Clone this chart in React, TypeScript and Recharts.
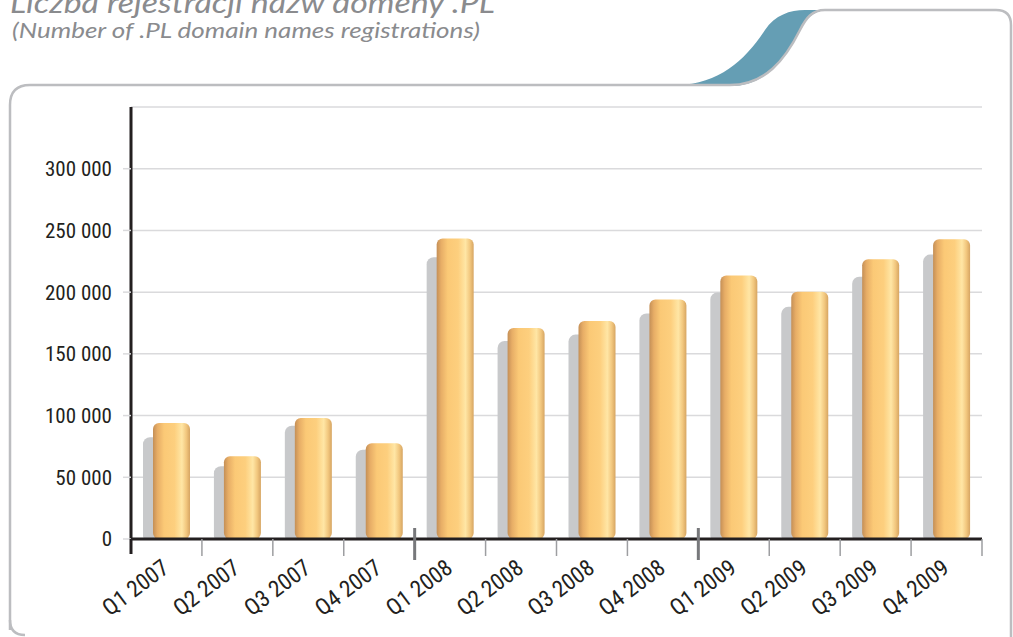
import { Bar, BarChart, CartesianGrid, XAxis, YAxis } from 'recharts'

const QUARTERS = [
  'Q1 2007', 'Q2 2007', 'Q3 2007', 'Q4 2007',
  'Q1 2008', 'Q2 2008', 'Q3 2008', 'Q4 2008',
  'Q1 2009', 'Q2 2009', 'Q3 2009', 'Q4 2009',
]
// front (orange) bars
const REGISTRATIONS = [94000, 67000, 98000, 77500, 243500, 171000, 176700, 194000, 213400, 200300, 226600, 242900]
// grey "shadow" bars behind them
const SHADOW = [82400, 59000, 91800, 72300, 228300, 160400, 165600, 182700, 199800, 188100, 212500, 230400]
const Y_TICKS = [0, 50000, 100000, 150000, 200000, 250000, 300000]

const TITLE = 'Liczba rejestracji nazw domeny .PL'
const SUBTITLE = '(Number of .PL domain names registrations)'

const W = 1013
const H = 637
const PLOT_LEFT = 131
const PLOT_RIGHT = 982
const BAND = (PLOT_RIGHT - PLOT_LEFT) / QUARTERS.length
const YEAR_ENDS = [3, 7]
const LABEL_FONT = '"Liberation Sans Narrow", "Arial Narrow", "Roboto Condensed", "Liberation Sans", sans-serif'

const data = QUARTERS.map((q, i) => ({ q, value: REGISTRATIONS[i], shadow: SHADOW[i] }))

const fmt = (v: number) => String(v).replace(/\B(?=(\d{3})+(?!\d))/g, ' ')

function XTick(props: any) {
  const { x, y, payload, index } = props
  const bx = x + BAND / 2
  const tall = YEAR_ENDS.includes(index)
  return (
    <g>
      {index === 0 && (
        <line x1={x - BAND / 2} x2={x - BAND / 2} y1={y} y2={y + 15} stroke="#231f20" strokeWidth={3} />
      )}
      {tall ? (
        <line x1={bx} x2={bx} y1={y - 11} y2={y + 21} stroke="#77787b" strokeWidth={3} />
      ) : (
        <line x1={bx} x2={bx} y1={y} y2={y + 17} stroke="#9d9ea1" strokeWidth={1.5} />
      )}
      <g transform={`translate(${x + 4}, ${y + 32}) rotate(-37)`}>
        <text x={0} y={0} textAnchor="end" fontFamily={LABEL_FONT} fontSize={23} fill="#231f20">
          {payload.value}
        </text>
      </g>
    </g>
  )
}

function Frame() {
  return (
    <svg width={W} height={H} style={{ position: 'absolute', left: 0, top: 0 }}>
      <path
        d="M 677,85 C 720,84 745,60 765,30 C 775,15 790,10 805,10 L 825,10 C 812,12 805,20 800,30 C 785,60 765,86 730,86 Z"
        fill="#659eb4"
      />
      <path
        d="M 10,630 L 10,105 Q 10,85 30,85 L 730,85 C 765,85 785,60 800,30 C 806,18 812,10 825,10 L 996,10 Q 1011,10 1011,25 L 1011,640"
        fill="none"
        stroke="#bcbdc0"
        strokeWidth={2.5}
      />
      <path d="M 10,620 Q 10,635 25,635" fill="none" stroke="#bcbdc0" strokeWidth={2.5} />
      <text x={10} y={13} fontFamily="Lato, 'Open Sans', sans-serif" fontStyle="italic" fontSize={29} fill="#8a8b8e" textLength={485} lengthAdjust="spacingAndGlyphs">
        {TITLE}
      </text>
      <text x={12} y={38} fontFamily="Lato, 'Open Sans', sans-serif" fontStyle="italic" fontSize={21} fill="#8a8b8e" textLength={468} lengthAdjust="spacingAndGlyphs">
        {SUBTITLE}
      </text>
    </svg>
  )
}

export default function App() {
  return (
    <div style={{ position: 'absolute', left: 0, top: 0, width: W, height: H, background: '#fff', overflow: 'hidden' }}>
      <Frame />
      <div style={{ position: 'absolute', left: 0, top: 0 }}>
        <BarChart
          width={W}
          height={H}
          data={data}
          margin={{ top: 107, right: W - PLOT_RIGHT, left: 0, bottom: 38 }}
          barSize={37}
          barGap={-27}
        >
          <defs>
            <linearGradient id="gold" x1="0" y1="0" x2="1" y2="0">
              <stop offset="0%" stopColor="#c48f57" />
              <stop offset="12%" stopColor="#e7ad66" />
              <stop offset="30%" stopColor="#fbc976" />
              <stop offset="58%" stopColor="#fdcf7e" />
              <stop offset="78%" stopColor="#ffe6a5" />
              <stop offset="90%" stopColor="#f2c77e" />
              <stop offset="100%" stopColor="#d6a562" />
            </linearGradient>
          </defs>
          <CartesianGrid horizontal vertical={false} stroke="#dadadc" strokeWidth={1.5} />
          <XAxis
            dataKey="q"
            height={60}
            interval={0}
            tickLine={false}
            tickSize={0}
            tickMargin={0}
            axisLine={{ stroke: '#231f20', strokeWidth: 3 }}
            tick={(p: any) => <XTick {...p} />}
          />
          <YAxis
            width={PLOT_LEFT}
            domain={[0, 350000]}
            ticks={Y_TICKS}
            tickFormatter={fmt}
            axisLine={{ stroke: '#231f20', strokeWidth: 3 }}
            tickLine={{ stroke: '#dadadc', strokeWidth: 1.5 }}
            tickSize={8}
            tickMargin={11}
            tick={{ fontFamily: LABEL_FONT, fontSize: 21, fill: '#231f20' }}
          />
          <Bar dataKey="shadow" fill="#c8c9cb" radius={[7, 0, 0, 3]} isAnimationActive={false} />
          <Bar dataKey="value" fill="url(#gold)" radius={6} isAnimationActive={false} />
        </BarChart>
      </div>
    </div>
  )
}
